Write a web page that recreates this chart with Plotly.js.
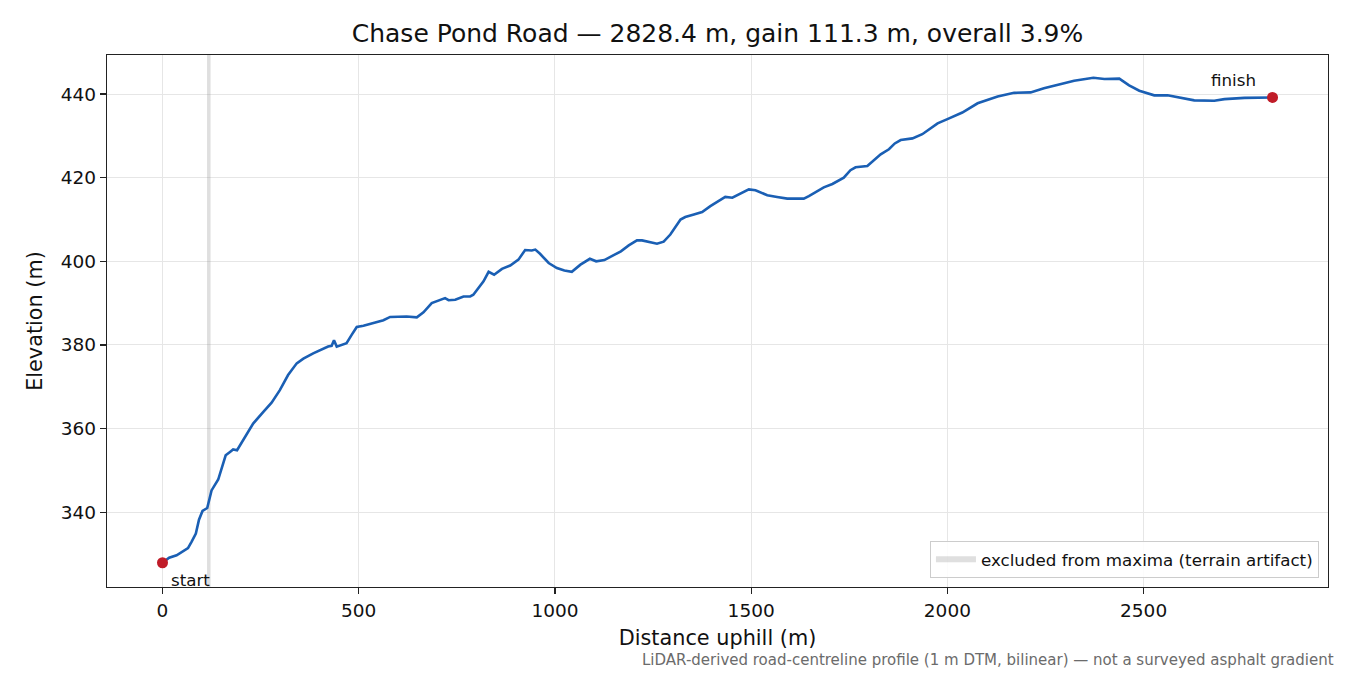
<!DOCTYPE html>
<html>
<head>
<meta charset="utf-8">
<script src="https://cdn.plot.ly/plotly-3.0.1.min.js"></script>
<style>
    html, body { margin: 0; padding: 0; background: white; }
    #plot { width: 1350px; height: 675px; }
</style>
</head>
<body>
<div id="plot"></div>
<script>
// profile, distance (m) and elevation (m)
const distance_m = [
    0, 17, 36, 53, 65, 74, 85, 93, 102, 114, 119, 125, 142, 150, 161, 172, 180, 190,
    210, 231, 257, 278, 299, 312, 320, 342, 359, 384, 401, 422, 431, 437, 444, 457,
    469, 482, 495, 512, 537, 563, 580, 622, 648, 665, 686, 707, 720, 729, 746, 767,
    784, 792, 818, 831, 845, 865, 886, 907, 924, 941, 950, 962, 984, 1005, 1024, 1043,
    1065, 1089, 1105, 1126, 1150, 1168, 1188, 1209, 1222, 1239, 1260, 1277, 1294, 1320,
    1332, 1354, 1375, 1396, 1422, 1434, 1452, 1473, 1494, 1511, 1532, 1541, 1566, 1592,
    1609, 1634, 1647, 1664, 1685, 1707, 1736, 1753, 1766, 1796, 1813, 1830, 1851, 1866,
    1881, 1911, 1936, 1975, 2000, 2038, 2077, 2128, 2170, 2212, 2246, 2281, 2323, 2372,
    2400, 2438, 2463, 2489, 2527, 2561, 2595, 2629, 2680, 2706, 2757, 2799, 2828.4
];
const elevation_m = [
    327.9, 329.1, 329.7, 330.7, 331.4, 332.9, 334.9, 338.2, 340.3, 341.0, 343.0, 345.2, 347.8, 350.5, 353.6, 354.4, 355.0, 354.8,
    358.0, 361.2, 364.0, 366.2, 369.2, 371.6, 372.8, 375.6, 376.7, 378.0, 378.8, 379.6, 379.8, 381.1, 379.6, 380.0,
    380.4, 382.4, 384.3, 384.6, 385.2, 385.9, 386.7, 386.8, 386.6, 387.8, 390.0, 390.8, 391.2, 390.7, 390.8, 391.6,
    391.6, 392.0, 395.2, 397.5, 396.8, 398.2, 399.0, 400.4, 402.7, 402.6, 402.8, 401.8, 399.6, 398.4, 397.8, 397.5,
    399.2, 400.6, 400.0, 400.3, 401.4, 402.4, 403.8, 405.0, 405.0, 404.6, 404.2, 404.7, 406.4, 410.0,
    410.6, 411.2, 411.8, 413.2, 414.8, 415.4, 415.2, 416.2, 417.2, 417.0, 416.2, 415.8, 415.4, 415.0,
    415.0, 415.0, 415.6, 416.6, 417.7, 418.5, 420.0, 421.8, 422.5, 422.8, 424.2, 425.6, 426.8, 428.2,
    429.0, 429.4, 430.4, 433.0, 434.0, 435.6, 437.8, 439.4, 440.3, 440.4, 441.4, 442.2, 443.2, 443.9,
    443.6, 443.7, 442.1, 440.8, 439.7, 439.7, 439.1, 438.5, 438.4, 438.8, 439.1, 439.1, 439.2
];

// stretch excluded from the maxima search
const excluded_span = [113.5, 122.5];

const x_range = [-141.4, 2969.8];
const y_range = [322.1, 449.35];
const x_ticks = [0, 500, 1000, 1500, 2000, 2500];
const y_ticks = [340, 360, 380, 400, 420, 440];

const road_name = "Chase Pond Road";
const footnote = "LiDAR-derived road-centreline profile (1 m DTM, bilinear) \u2014 not a surveyed asphalt gradient";

const font_family = "DejaVu Sans, Verdana, sans-serif";
const line_blue = "#1a5fb4";
const dot_red = "#c01c28";

function build_title() {
    let total = distance_m[distance_m.length - 1];
    let gain = elevation_m[elevation_m.length - 1] - elevation_m[0];
    let grade = gain / total * 100;
    return road_name + " \u2014 " + total.toFixed(1) + " m, gain " + gain.toFixed(1) +
        " m, overall " + grade.toFixed(1) + "%";
}

function build_plot() {
    let last = distance_m.length - 1;
    let data = [];

    // the excluded band goes first so the profile sits on top of it
    data.push({
        x: [excluded_span[0], excluded_span[1], excluded_span[1], excluded_span[0], excluded_span[0]],
        y: [y_range[0], y_range[0], y_range[1], y_range[1], y_range[0]],
        mode: "none",
        fill: "toself",
        fillcolor: "rgba(140,140,140,0.28)",
        name: "excluded from maxima (terrain artifact)",
        showlegend: true,
        hoverinfo: "skip",
    });

    data.push({
        x: distance_m,
        y: elevation_m,
        mode: "lines",
        line: {color: line_blue, width: 2.6},
        showlegend: false,
    });

    data.push({
        x: [distance_m[0], distance_m[last]],
        y: [elevation_m[0], elevation_m[last]],
        mode: "markers",
        marker: {color: dot_red, size: 11},
        showlegend: false,
        cliponaxis: false,
    });

    let axis_common = {
        showline: true,
        mirror: true,
        linecolor: "#222",
        linewidth: 1.3,
        ticks: "outside",
        ticklen: 6,
        tickwidth: 1.3,
        tickcolor: "#222",
        showgrid: true,
        gridcolor: "#e6e6e6",
        gridwidth: 1,
        zeroline: false,
        tickfont: {family: font_family, size: 18.5, color: "#111"},
    };

    let layout = {
        width: 1350,
        height: 675,
        paper_bgcolor: "white",
        plot_bgcolor: "white",
        margin: {l: 107, r: 22, t: 55, b: 88},
        font: {family: font_family, color: "#111"},
        title: {
            text: build_title(),
            font: {family: font_family, size: 25, color: "#111"},
            x: 0.5315,
            xanchor: "center",
            y: 1 - 33 / 675,
            yanchor: "middle",
        },
        xaxis: Object.assign({}, axis_common, {
            range: x_range,
            tickvals: x_ticks,
            ticktext: x_ticks.map(String),
            title: {text: "Distance uphill (m)", font: {family: font_family, size: 20.8}, standoff: 11},
        }),
        yaxis: Object.assign({}, axis_common, {
            range: y_range,
            tickvals: y_ticks,
            ticktext: y_ticks.map(String),
            title: {text: "Elevation (m)", font: {family: font_family, size: 20.8}, standoff: 12},
        }),
        showlegend: true,
        legend: {
            x: 0.9926,
            y: 0.017,
            xanchor: "right",
            yanchor: "bottom",
            bgcolor: "rgba(255,255,255,0.85)",
            bordercolor: "#cccccc",
            borderwidth: 1,
            font: {family: font_family, size: 16.7, color: "#111"},
            itemwidth: 40,
        },
        annotations: [
            {
                x: distance_m[0], y: elevation_m[0], xref: "x", yref: "y",
                text: "start", showarrow: false,
                xanchor: "center", yanchor: "middle",
                xshift: 28, yshift: -17,
                font: {family: font_family, size: 16.7, color: "#111"},
            },
            {
                x: distance_m[last], y: elevation_m[last], xref: "x", yref: "y",
                text: "finish", showarrow: false,
                xanchor: "center", yanchor: "middle",
                xshift: -39, yshift: 17,
                font: {family: font_family, size: 16.7, color: "#111"},
            },
            {
                x: 1.0065, y: -0.137, xref: "paper", yref: "paper",
                text: footnote, showarrow: false,
                xanchor: "right", yanchor: "middle",
                font: {family: font_family, size: 15, color: "#6b6b6b"},
            },
        ],
    };

    let config = {
        staticPlot: true,
    };

    Plotly.newPlot("plot", data, layout, config);
}

window.addEventListener("DOMContentLoaded", () => {
    build_plot();
});
</script>
</body>
</html>
